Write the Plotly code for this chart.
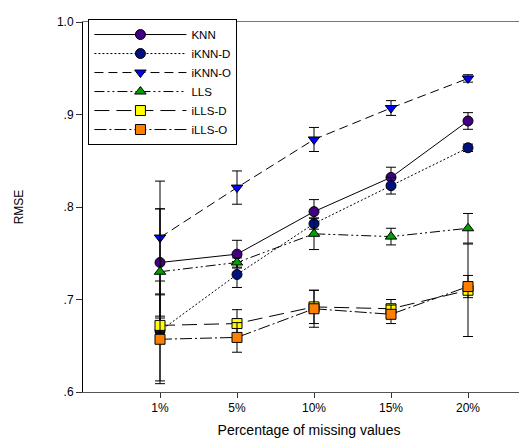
import plotly.graph_objects as go

categories = ["1%", "5%", "10%", "15%", "20%"]
x_pos = [1, 2, 3, 4, 5]

knn = [0.740, 0.749, 0.795, 0.832, 0.893]
knn_err = [0.058, 0.015, 0.013, 0.011, 0.009]
iknn_d = [0.666, 0.727, 0.782, 0.823, 0.864]
iknn_d_err = [0.054, 0.014, 0.006, 0.009, 0.004]
iknn_o = [0.767, 0.821, 0.873, 0.907, 0.939]
iknn_o_err = [0.061, 0.018, 0.013, 0.008, 0.004]
lls = [0.730, 0.740, 0.771, 0.768, 0.777]
lls_err = [0.068, 0.005, 0.017, 0.009, 0.016]
ills_d = [0.672, 0.674, 0.692, 0.690, 0.710]
ills_d_err = [0.008, 0.015, 0.018, 0.010, 0.050]
ills_o = [0.657, 0.659, 0.690, 0.684, 0.714]
ills_o_err = [0.048, 0.016, 0.020, 0.010, 0.012]

y_tickvals = [0.6, 0.7, 0.8, 0.9, 1.0]
y_ticktext = [".6", ".7", ".8", ".9", "1.0"]

series = [
    ("KNN", knn, knn_err, "circle", "#420080", "solid"),
    ("iKNN-D", iknn_d, iknn_d_err, "circle", "#001080", "2px,2px"),
    ("iKNN-O", iknn_o, iknn_o_err, "triangle-down", "#0000FF", "9px,5px"),
    ("LLS", lls, lls_err, "triangle-up", "#00A000", "10px,3px,2px,3px,2px,3px"),
    ("iLLS-D", ills_d, ills_d_err, "square", "#FFFF00", "15px,7px"),
    ("iLLS-O", ills_o, ills_o_err, "square", "#FF8000", "12px,3px,2px,3px"),
]

fig = go.Figure()
for name, vals, errs, sym, col, dash in series:
    fig.add_trace(go.Scatter(
        x=x_pos, y=vals, name=name, mode="lines+markers",
        line=dict(color="black", width=1, dash=dash),
        marker=dict(symbol=sym, size=10, color=col, line=dict(color="black", width=1)),
        error_y=dict(type="data", array=errs, visible=True, color="black",
                     thickness=1, width=5),
    ))

font_family = "Liberation Sans, Arial, sans-serif"
fig.update_layout(
    width=527, height=441,
    margin=dict(l=75, r=0, t=14, b=57),
    plot_bgcolor="white", paper_bgcolor="white",
    font=dict(family=font_family, size=12, color="black"),
    showlegend=True,
    legend=dict(
        x=0.012, y=1.008, xanchor="left", yanchor="top",
        bordercolor="black", borderwidth=1, bgcolor="white",
        font=dict(size=11.5), tracegroupgap=0, itemwidth=92,
    ),
    xaxis=dict(
        range=[0, 5.87], tickvals=x_pos, ticktext=categories,
        showgrid=False, zeroline=False,
        showline=True, linecolor="#555555", linewidth=1, mirror=False,
        ticks="outside", ticklen=5, tickcolor="#333333",
        title=dict(text="Percentage of missing values", font=dict(size=14), standoff=10),
    ),
    xaxis2=dict(overlaying="x", side="top", range=[0, 5.87], showline=True,
                linecolor="#777777", linewidth=1, showticklabels=False,
                ticks="", showgrid=False, zeroline=False),
    yaxis=dict(
        range=[0.6, 1.0], tickvals=y_tickvals, ticktext=y_ticktext,
        showgrid=False, zeroline=False,
        showline=True, linecolor="black", linewidth=1,
        ticks="outside", ticklen=6, tickcolor="#333333",
        title=dict(text="RMSE", font=dict(size=12), standoff=30),
    ),
)
fig.add_trace(go.Scatter(x=[None], y=[None], xaxis="x2", showlegend=False, hoverinfo="skip"))

fig.write_html("out.html")
